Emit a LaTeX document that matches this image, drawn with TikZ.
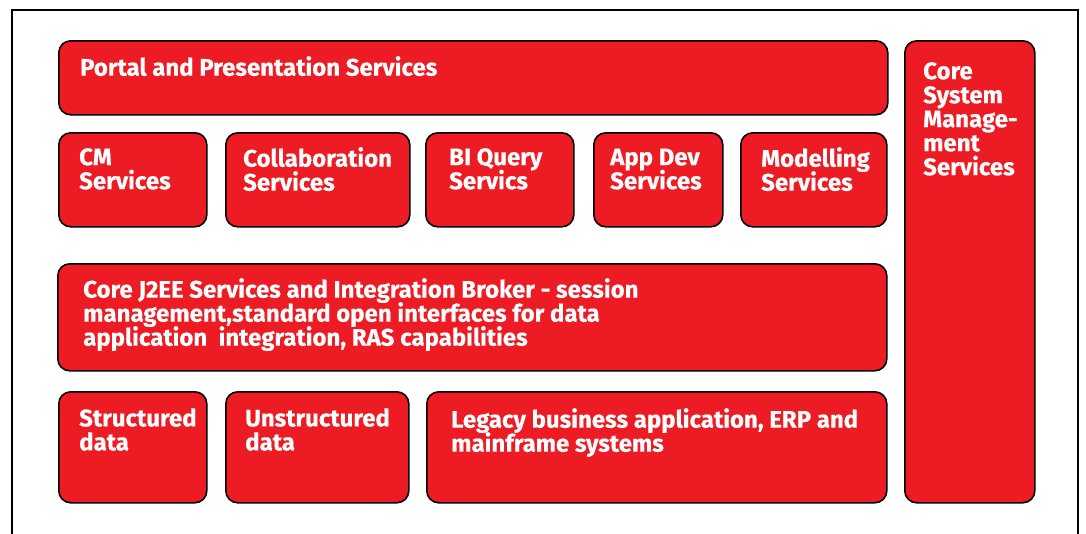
\documentclass[tikz,border=0pt]{standalone}
\usepackage{fontspec}
\setmainfont{Fira Sans}[BoldFeatures={FakeBold=0.35}]
\definecolor{boxred}{HTML}{ED1C24}
\tikzset{
  box/.style={draw=black, line width=1.6pt, fill=boxred, rounded corners=12pt, anchor=north west, inner sep=0pt},
  lbl/.style={anchor=north west, inner sep=0pt, align=left, text=white,
    font={\fontsize{24}{24}\selectfont\bfseries\lineskiplimit=-50pt\lineskip=0pt}},
}
\newcommand{\fs}{\rule{0pt}{18pt}}
\begin{document}
\begin{tikzpicture}[x=1pt,y=-1pt]
\useasboundingbox (0,0) rectangle (1086,533);
\fill[white] (0,0) rectangle (1086,533);
\draw[line width=2pt] (12,534) -- (12,10) -- (1078,10) -- (1078,534);
% boxes
\node[box, minimum width=829pt, minimum height=74pt] (portal) at (58,40) {};
\node[box, minimum width=148pt, minimum height=94pt] (cm) at (58,132) {};
\node[box, minimum width=184pt, minimum height=94pt] (collab) at (225,132) {};
\node[box, minimum width=148pt, minimum height=94pt] (bi) at (425,132) {};
\node[box, minimum width=129pt, minimum height=94pt] (appdev) at (593,132) {};
\node[box, minimum width=146pt, minimum height=94pt] (model) at (740,132) {};
\node[box, minimum width=829pt, minimum height=107pt] (j2ee) at (57,263) {};
\node[box, minimum width=148pt, minimum height=111pt] (struct) at (58,391) {};
\node[box, minimum width=183pt, minimum height=111pt] (unstruct) at (225,391) {};
\node[box, minimum width=460pt, minimum height=111pt] (legacy) at (426,391) {};
\node[box, minimum width=130pt, minimum height=462pt] (coresys) at (904,40) {};
% labels
\node[lbl] (tportal) at (80,56) {\fs Portal and Presentation Services};
\node[lbl] (tcm) at (79,147) {\fs CM\\Services};
\node[lbl] (tcollab) at (243,147) {\fs Collaboration\\Services};
\node[lbl] (tbi) at (449,147) {\fs BI Query\\Servics};
\node[lbl] (tappdev) at (610,147) {\fs App Dev\\Services};
\node[lbl] (tmodel) at (761,147) {\fs Modelling\\Services};
\node[lbl] (tj2ee) at (83,278) {\fs Core J2EE Services and Integration Broker - session\\management,standard open interfaces for data\\application\ \ integration, RAS capabilities};
\node[lbl] (tstruct) at (79,408) {\fs Structured\\data};
\node[lbl] (tunstruct) at (245,408) {\fs Unstructured\\data};
\node[lbl] (tlegacy) at (451,408) {\fs Legacy business application, ERP and\\mainframe systems};
\node[lbl] (tcoresys) at (923,61) {\fs Core\\System\\Manage-\\ment\\Services};
\end{tikzpicture}
\end{document}
